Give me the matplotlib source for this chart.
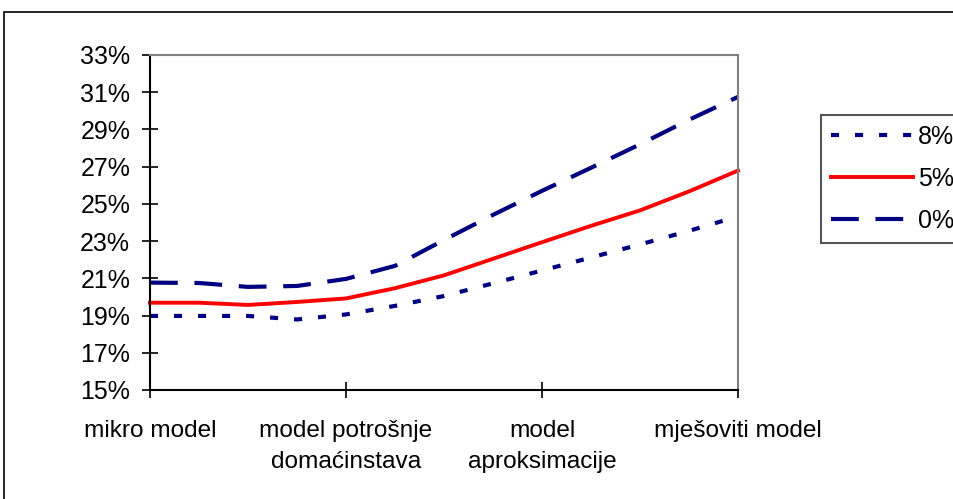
import numpy as np
import matplotlib.pyplot as plt
from matplotlib.patches import Rectangle

plt.rcParams['font.family'] = ['Liberation Sans', 'DejaVu Sans']
plt.rcParams['lines.scale_dashes'] = False

# Kategorije na x osi (13 tocaka, natpis svake cetvrte)
kategorije = ['mikro model', 'model potrošnje\ndomaćinstava',
              'model\naproksimacije', 'mješoviti model']
# Vrijednosti serija u postocima
stopa_8 = [18.98, 18.98, 18.98, 18.79, 19.06, 19.52, 20.05,
           20.73, 21.42, 22.12, 22.82, 23.55, 24.33]
stopa_5 = [19.69, 19.69, 19.57, 19.73, 19.92, 20.47, 21.16,
           22.05, 22.94, 23.82, 24.65, 25.67, 26.79]
stopa_0 = [20.77, 20.75, 20.54, 20.59, 20.97, 21.67, 23.06,
           24.41, 25.70, 26.94, 28.20, 29.52, 30.75]
y_oznake = [15, 17, 19, 21, 23, 25, 27, 29, 31, 33]

x = np.arange(len(stopa_8))

fig = plt.figure(figsize=(9.54, 4.99), dpi=100)
ax = fig.add_axes([150 / 954, 109 / 499, 588 / 954, 335 / 499])

navy = '#000080'
ax.plot(x, stopa_8, color=navy, lw=3, dashes=(5.8, 11.5), label='8%', clip_on=False)
ax.plot(x, stopa_5, color='#ff0000', lw=2.8, label='5%', clip_on=False)
ax.plot(x, stopa_0, color=navy, lw=3, dashes=(20, 12), label='0%', clip_on=False)

ax.set_xlim(0, len(x) - 1)
ax.set_ylim(y_oznake[0], y_oznake[-1])
ax.set_yticks(y_oznake)
ax.set_yticklabels([f'{v}%' for v in y_oznake], fontsize=18)
ax.set_xticks(x[::4])
ax.set_xticklabels(kategorije, fontsize=17.6, linespacing=1.5)
ax.tick_params(direction='inout', length=11.5, width=1.2, colors='black')
ax.tick_params(axis='y', pad=8.5)
ax.tick_params(axis='x', pad=16)

for s in ['left', 'bottom']:
    ax.spines[s].set_color('black')
    ax.spines[s].set_linewidth(1.5)
for s in ['top', 'right']:
    ax.spines[s].set_color('#808080')
    ax.spines[s].set_linewidth(1.5)

leg = ax.legend(loc='upper left', bbox_to_anchor=(820.7 / 954, 1 - 115 / 499),
                bbox_transform=fig.transFigure, borderaxespad=0, fontsize=18,
                fancybox=False, framealpha=1, edgecolor='#555555',
                handlelength=3.3, handletextpad=0.2, borderpad=0.4,
                labelspacing=0.72)
leg.get_frame().set_linewidth(1.5)

# okvir cijelog grafikona
fig.patches.append(Rectangle((4 / 954, -0.05), 1.0, 1.05 - 12 / 499,
                             transform=fig.transFigure, fill=False,
                             ec='black', lw=1.2))

plt.savefig('out.png', dpi=100)
